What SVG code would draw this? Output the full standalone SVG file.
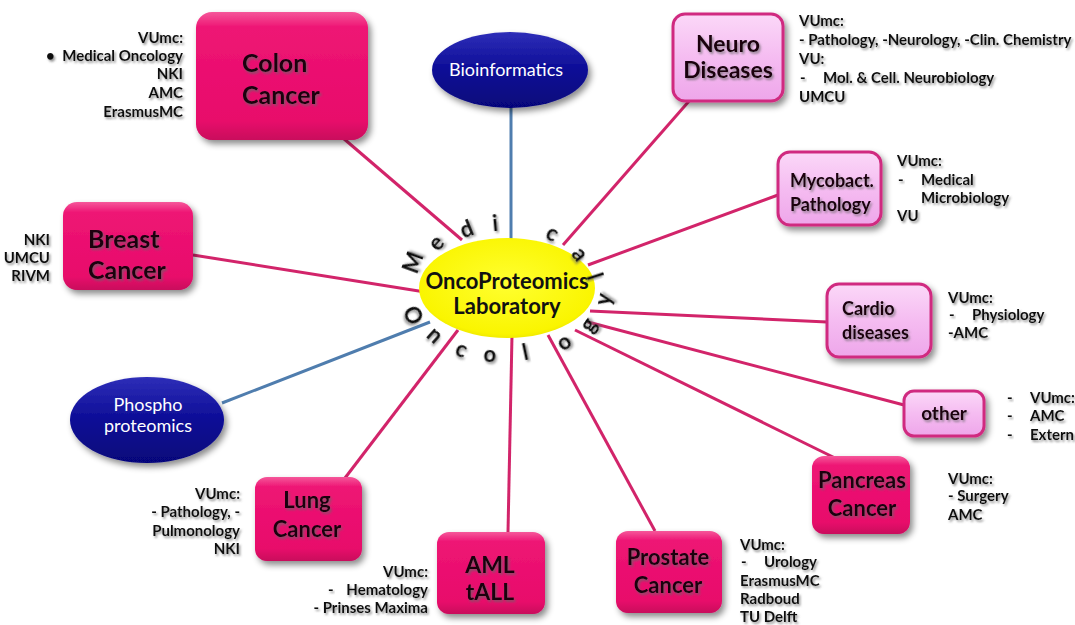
<svg xmlns="http://www.w3.org/2000/svg" width="1075" height="625" viewBox="0 0 1075 625">
<defs>
<linearGradient id="gPink" x1="0" y1="0" x2="0" y2="1">
<stop offset="0" stop-color="#F5579A"/><stop offset="0.12" stop-color="#EE1574"/><stop offset="0.85" stop-color="#E80A6B"/><stop offset="1" stop-color="#C9075C"/>
</linearGradient>
<linearGradient id="gLight" x1="0" y1="0" x2="0" y2="1">
<stop offset="0" stop-color="#FBD8F8"/><stop offset="0.5" stop-color="#F5BCF1"/><stop offset="1" stop-color="#EEA6EA"/>
</linearGradient>
<linearGradient id="gBlue" x1="0" y1="0" x2="0" y2="1">
<stop offset="0" stop-color="#2E2EB8"/><stop offset="0.5" stop-color="#0C0C96"/><stop offset="1" stop-color="#06067A"/>
</linearGradient>
<radialGradient id="gYellow" cx="0.5" cy="0.45" r="0.6">
<stop offset="0" stop-color="#FFFF30"/><stop offset="0.85" stop-color="#FAF500"/><stop offset="1" stop-color="#E6DE00"/>
</radialGradient>
<filter id="sh" x="-20%" y="-20%" width="150%" height="160%">
<feDropShadow dx="3" dy="4" stdDeviation="3" flood-color="#000" flood-opacity="0.45"/>
</filter>
<filter id="ts" x="-10%" y="-30%" width="130%" height="170%">
<feDropShadow dx="1.5" dy="2" stdDeviation="1.2" flood-color="#666" flood-opacity="0.7"/>
</filter>
</defs>
<style>
.pink{fill:url(#gPink);filter:url(#sh)}
.light{fill:url(#gLight);stroke:#D02C80;stroke-width:3;filter:url(#sh)}
.blue{fill:url(#gBlue);filter:url(#sh)}
.ntx{font-family:Lato,"Liberation Sans",sans-serif;font-weight:bold;fill:#1A0010;filter:url(#ts)}
.wtx{font-family:Lato,"Liberation Sans",sans-serif;font-size:18px;fill:#fff}
.lbl{font-family:Lato,"Liberation Sans",sans-serif;font-weight:bold;font-size:15px;fill:#111;filter:url(#ts)}
.end{text-anchor:end}
.mid{text-anchor:middle}
.cp{stroke:#D2246A;stroke-width:3;fill:none}
.cb{stroke:#4F7DAE;stroke-width:3;fill:none}
.arc{font-family:Lato,"Liberation Sans",sans-serif;font-weight:bold;font-size:22px;fill:#111;text-anchor:middle;dominant-baseline:central;filter:url(#ts)}
.ctr{font-family:Lato,"Liberation Sans",sans-serif;font-weight:bold;font-size:22px;fill:#111;text-anchor:middle}
</style>
<rect width="1075" height="625" fill="#fff"/>
<g id="connectors">
<line class="cp" x1="343" y1="138" x2="462" y2="240"/>
<line class="cb" x1="511" y1="107" x2="511" y2="240"/>
<line class="cp" x1="690" y1="100" x2="563" y2="245"/>
<line class="cp" x1="778" y1="195" x2="588" y2="265"/>
<line class="cp" x1="827" y1="322" x2="590" y2="311"/>
<line class="cp" x1="904" y1="405" x2="588" y2="322"/>
<line class="cp" x1="835" y1="458" x2="575" y2="330"/>
<line class="cp" x1="655" y1="531" x2="548" y2="335"/>
<line class="cp" x1="508" y1="532" x2="512" y2="335"/>
<line class="cp" x1="345" y1="478" x2="458" y2="330"/>
<line class="cb" x1="222" y1="403" x2="430" y2="322"/>
<line class="cp" x1="193" y1="255" x2="425" y2="292"/>
</g>
<g id="center">
<ellipse cx="507" cy="288" rx="88" ry="50" fill="url(#gYellow)"/>
<text class="ctr" x="507" y="289">OncoProteomics</text>
<text class="ctr" x="507" y="314">Laboratory</text>
<text class="arc" transform="translate(412,262) rotate(-70)">M</text>
<text class="arc" transform="translate(435,242) rotate(-48)">e</text>
<text class="arc" transform="translate(466,228) rotate(-22)">d</text>
<text class="arc" transform="translate(495,222) rotate(-5)">i</text>
<text class="arc" transform="translate(553,232) rotate(28)">c</text>
<text class="arc" transform="translate(581,253) rotate(52)">a</text>
<text class="arc" transform="translate(596,276) rotate(72)">l</text>
<text class="arc" transform="translate(414,315) rotate(65)">O</text>
<text class="arc" transform="translate(436,334) rotate(42)">n</text>
<text class="arc" transform="translate(462,348) rotate(22)">c</text>
<text class="arc" transform="translate(490,353) rotate(5)">o</text>
<text class="arc" transform="translate(525,351) rotate(-12)">l</text>
<text class="arc" transform="translate(563,341) rotate(-35)">o</text>
<text class="arc" transform="translate(587,324) rotate(-55)">g</text>
<text class="arc" transform="translate(602,299) rotate(-78)">y</text>
</g>
<g id="colon">
<rect class="pink" x="196" y="12" width="172" height="128" rx="16"/>
<text class="ntx" font-size="25" x="242" y="72">Colon</text>
<text class="ntx" font-size="25" x="242" y="104">Cancer</text>
<text class="lbl end" x="183" y="43">VUmc:</text>
<text class="lbl" x="46" y="61">•</text>
<text class="lbl end" x="183" y="61">Medical Oncology</text>
<text class="lbl end" x="183" y="79">NKI</text>
<text class="lbl end" x="183" y="98">AMC</text>
<text class="lbl end" x="183" y="117">ErasmusMC</text>
</g>
<g id="bioinformatics">
<ellipse class="blue" cx="510" cy="70" rx="78" ry="38"/>
<text class="wtx mid" x="506" y="76">Bioinformatics</text>
</g>
<g id="neuro">
<rect class="light" x="673" y="14" width="110" height="87" rx="12"/>
<text class="ntx mid" font-size="23" x="728" y="52">Neuro</text>
<text class="ntx mid" font-size="23" x="728" y="78">Diseases</text>
<text class="lbl" x="799" y="26">VUmc:</text>
<text class="lbl" x="799" y="45">- Pathology, -Neurology, -Clin. Chemistry</text>
<text class="lbl" x="799" y="64">VU:</text>
<text class="lbl" x="800" y="83">-</text>
<text class="lbl" x="823" y="83">Mol. &amp; Cell. Neurobiology</text>
<text class="lbl" x="799" y="102">UMCU</text>
</g>
<g id="mycobact">
<rect class="light" x="778" y="152" width="103" height="73" rx="12"/>
<text class="ntx" font-size="18" x="790" y="187">Mycobact.</text>
<text class="ntx" font-size="18" x="790" y="211">Pathology</text>
<text class="lbl" x="897" y="166">VUmc:</text>
<text class="lbl" x="898" y="185">-</text>
<text class="lbl" x="921" y="185">Medical</text>
<text class="lbl" x="921" y="203">Microbiology</text>
<text class="lbl" x="897" y="221">VU</text>
</g>
<g id="breast">
<rect class="pink" x="63" y="202" width="130" height="88" rx="14"/>
<text class="ntx" font-size="25" x="88" y="248">Breast</text>
<text class="ntx" font-size="25" x="88" y="279">Cancer</text>
<text class="lbl end" x="50" y="245">NKI</text>
<text class="lbl end" x="50" y="263">UMCU</text>
<text class="lbl end" x="50" y="281">RIVM</text>
</g>
<g id="cardio">
<rect class="light" x="827" y="284" width="104" height="73" rx="12"/>
<text class="ntx" font-size="18" x="842" y="315">Cardio</text>
<text class="ntx" font-size="18" x="842" y="339">diseases</text>
<text class="lbl" x="948" y="303">VUmc:</text>
<text class="lbl" x="949" y="320">-</text>
<text class="lbl" x="972" y="320">Physiology</text>
<text class="lbl" x="948" y="338">-AMC</text>
</g>
<g id="other">
<rect class="light" x="904" y="391" width="80" height="45" rx="10"/>
<text class="ntx mid" font-size="19" x="944" y="420">other</text>
<text class="lbl" x="1007" y="403">-</text>
<text class="lbl" x="1030" y="403">VUmc:</text>
<text class="lbl" x="1007" y="421">-</text>
<text class="lbl" x="1030" y="421">AMC</text>
<text class="lbl" x="1007" y="440">-</text>
<text class="lbl" x="1030" y="440">Extern</text>
</g>
<g id="phospho">
<ellipse class="blue" cx="147" cy="420" rx="77" ry="43"/>
<text class="wtx mid" x="148" y="411">Phospho</text>
<text class="wtx mid" x="148" y="432">proteomics</text>
</g>
<g id="pancreas">
<rect class="pink" x="812" y="456" width="98" height="78" rx="12"/>
<text class="ntx mid" font-size="22" x="862" y="488">Pancreas</text>
<text class="ntx mid" font-size="22" x="862" y="516">Cancer</text>
<text class="lbl" x="948" y="484">VUmc:</text>
<text class="lbl" x="948" y="501">- Surgery</text>
<text class="lbl" x="948" y="520">AMC</text>
</g>
<g id="prostate">
<rect class="pink" x="616" y="531" width="106" height="82" rx="12"/>
<text class="ntx mid" font-size="22" x="668" y="565">Prostate</text>
<text class="ntx mid" font-size="22" x="668" y="593">Cancer</text>
<text class="lbl" x="740" y="550">VUmc:</text>
<text class="lbl" x="741" y="567">-</text>
<text class="lbl" x="764" y="567">Urology</text>
<text class="lbl" x="740" y="586">ErasmusMC</text>
<text class="lbl" x="740" y="604">Radboud</text>
<text class="lbl" x="740" y="622">TU Delft</text>
</g>
<g id="aml">
<rect class="pink" x="437" y="532" width="108" height="82" rx="12"/>
<text class="ntx mid" font-size="23" x="490" y="573">AML</text>
<text class="ntx mid" font-size="23" x="490" y="600">tALL</text>
<text class="lbl end" x="428" y="577">VUmc:</text>
<text class="lbl" x="328" y="595">-</text>
<text class="lbl end" x="428" y="595">Hematology</text>
<text class="lbl end" x="428" y="613">- Prinses Maxima</text>
</g>
<g id="lung">
<rect class="pink" x="255" y="477" width="107" height="84" rx="12"/>
<text class="ntx mid" font-size="22" x="307" y="508">Lung</text>
<text class="ntx mid" font-size="22" x="307" y="537">Cancer</text>
<text class="lbl end" x="240" y="499">VUmc:</text>
<text class="lbl end" x="240" y="517">- Pathology, -</text>
<text class="lbl end" x="240" y="536">Pulmonology</text>
<text class="lbl end" x="240" y="554">NKI</text>
</g>
</svg>
